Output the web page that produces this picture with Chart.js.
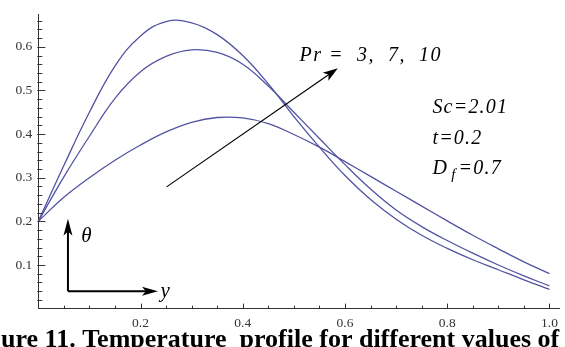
<!DOCTYPE html>
<html lang="en">

<head>
    <meta charset="UTF-8">
    <title>Temperature profile</title>
    <style>
        html, body { margin: 0; padding: 0; background: #fff; }
        #wrap { position: relative; width: 565px; height: 347px; overflow: hidden; }
    </style>
</head>

<body>
    <div id="wrap">
        <canvas id="tempChart" width="565" height="347"></canvas>
    </div>
    <script src="https://cdn.jsdelivr.net/npm/chart.js"></script>
    <script>
        // y (distance) grid
        const yPos = [0, 0.05, 0.1, 0.15, 0.2, 0.25, 0.3, 0.35, 0.4, 0.45, 0.5,
            0.55, 0.6, 0.65, 0.7, 0.75, 0.8, 0.85, 0.9, 0.95, 1.0];

        // theta values
        const thetaPr3 = [0.2, 0.255, 0.30, 0.34, 0.375, 0.405, 0.427, 0.438, 0.437, 0.424, 0.399,
            0.37, 0.337, 0.303, 0.269, 0.235, 0.201, 0.168, 0.137, 0.107, 0.08];
        const thetaPr7 = [0.2, 0.302, 0.395, 0.482, 0.543, 0.578, 0.593, 0.587, 0.56, 0.51, 0.45,
            0.39, 0.33, 0.274, 0.226, 0.188, 0.156, 0.127, 0.1, 0.075, 0.052];
        const thetaPr10 = [0.2, 0.328, 0.45, 0.556, 0.625, 0.658, 0.655, 0.628, 0.58, 0.515, 0.44,
            0.37, 0.305, 0.25, 0.205, 0.168, 0.138, 0.112, 0.089, 0.066, 0.044];

        const xTickLabels = [0.2, 0.4, 0.6, 0.8, 1.0];
        const yTickLabels = [0.1, 0.2, 0.3, 0.4, 0.5, 0.6];

        const lineColor = '#5353a3';
        const serif = "'Liberation Serif', 'Times New Roman', serif";

        function toPoints(vals) {
            return yPos.map(function (x, i) { return { x: x, y: vals[i] }; });
        }

        function makeSet(vals) {
            return {
                data: toPoints(vals),
                borderColor: lineColor,
                borderWidth: 1.3,
                pointRadius: 0,
                fill: false,
                tension: 0.4
            };
        }

        // ticks drawn inward, Mathematica style
        const innerTicks = {
            id: 'innerTicks',
            afterDraw(chart) {
                const ctx = chart.ctx;
                const xs = chart.scales.x, ys = chart.scales.y;
                const x0 = xs.getPixelForValue(0), y0 = ys.getPixelForValue(0);
                ctx.save();
                ctx.strokeStyle = '#333';
                ctx.lineWidth = 1;
                ctx.beginPath();
                for (let k = 1; k <= 20; k++) {
                    const px = Math.round(xs.getPixelForValue(k * 0.05)) + 0.5;
                    const len = (k % 4 === 0) ? 5 : 3;
                    ctx.moveTo(px, y0);
                    ctx.lineTo(px, y0 - len);
                }
                for (let k = 1; k <= 33; k++) {
                    const py = Math.round(ys.getPixelForValue(k * 0.02)) + 0.5;
                    const len = (k % 5 === 0) ? 7 : 4;
                    ctx.moveTo(x0 - 1, py);
                    ctx.lineTo(x0 + len, py);
                }
                ctx.stroke();
                ctx.restore();
            }
        };

        function arrowHead(ctx, fx, fy, tx, ty, len, half) {
            const a = Math.atan2(ty - fy, tx - fx);
            ctx.beginPath();
            ctx.moveTo(tx, ty);
            ctx.lineTo(tx - len * Math.cos(a) + half * Math.sin(a), ty - len * Math.sin(a) - half * Math.cos(a));
            ctx.lineTo(tx - len * Math.cos(a) * 0.75, ty - len * Math.sin(a) * 0.75);
            ctx.lineTo(tx - len * Math.cos(a) - half * Math.sin(a), ty - len * Math.sin(a) + half * Math.cos(a));
            ctx.closePath();
            ctx.fill();
        }

        const notes = {
            id: 'notes',
            afterDraw(chart) {
                const ctx = chart.ctx;
                const xs = chart.scales.x, ys = chart.scales.y;
                const X = v => xs.getPixelForValue(v), Y = v => ys.getPixelForValue(v);
                ctx.save();
                ctx.fillStyle = '#000';
                ctx.strokeStyle = '#000';

                // Pr arrow
                const fx = X(0.251), fy = Y(0.279), tx = X(0.586), ty = Y(0.551);
                const a = Math.atan2(ty - fy, tx - fx);
                ctx.lineWidth = 1.2;
                ctx.beginPath();
                ctx.moveTo(fx, fy);
                ctx.lineTo(tx - 10 * Math.cos(a), ty - 10 * Math.sin(a));
                ctx.stroke();
                arrowHead(ctx, fx, fy, tx, ty, 15, 5);

                // theta / y indicator
                const ox = X(0.058), oy = Y(0.040);
                ctx.lineWidth = 2;
                ctx.beginPath();
                ctx.moveTo(ox, oy);
                ctx.lineTo(ox, Y(0.206) + 12);
                ctx.moveTo(ox, oy);
                ctx.lineTo(X(0.234) - 12, oy);
                ctx.stroke();
                arrowHead(ctx, ox, oy, ox, Y(0.206), 17, 4.5);
                arrowHead(ctx, ox, oy, X(0.234), oy, 16, 4.5);

                ctx.textBaseline = 'middle';
                ctx.textAlign = 'left';
                ctx.font = 'italic 21px ' + serif;
                ctx.fillText('θ', X(0.084), Y(0.166));
                ctx.fillText('y', X(0.239), Y(0.040));

                ctx.font = 'italic 20px ' + serif;
                ctx.letterSpacing = '1.5px';
                ctx.fillText('Pr =  3,  7,  10', X(0.511), Y(0.58));
                ctx.letterSpacing = '1.2px';
                ctx.fillText('Sc=2.01', X(0.771), Y(0.46));
                ctx.fillText('t=0.2', X(0.771), Y(0.389));
                ctx.fillText('D', X(0.771), Y(0.320));
                const dw = ctx.measureText('D ').width;
                ctx.font = 'italic 15px ' + serif;
                ctx.fillText('f', X(0.771) + dw - 3, Y(0.320) + 6);
                const fw = ctx.measureText('f').width;
                ctx.font = 'italic 20px ' + serif;
                ctx.fillText('=0.7', X(0.771) + dw + fw - 1, Y(0.320));

                // caption, cut off at the bottom like the reference
                ctx.letterSpacing = '0px';
                ctx.font = 'bold 26px ' + serif;
                ctx.textBaseline = 'alphabetic';
                ctx.fillText('ure 11. Temperature  profile for different values of', 1, 347);
                ctx.restore();
            }
        };

        new Chart(document.getElementById('tempChart'), {
            type: 'line',
            data: {
                datasets: [makeSet(thetaPr3), makeSet(thetaPr7), makeSet(thetaPr10)]
            },
            options: {
                responsive: false,
                animation: false,
                layout: { padding: { top: 10, right: 5, left: 0, bottom: 0 } },
                plugins: { legend: { display: false }, tooltip: { enabled: false } },
                scales: {
                    x: {
                        type: 'linear',
                        min: 0,
                        max: 1.02,
                        afterFit(s) { s.height = 38.4; },
                        afterBuildTicks(s) { s.ticks = xTickLabels.map(v => ({ value: v })); },
                        grid: { display: false, drawTicks: false },
                        border: { display: true, color: '#333', width: 1 },
                        ticks: {
                            padding: 7,
                            color: '#333',
                            font: { family: serif, size: 13.5 },
                            maxRotation: 0,
                            callback: v => v.toFixed(1)
                        }
                    },
                    y: {
                        type: 'linear',
                        min: 0,
                        max: 0.675,
                        afterFit(s) { s.width = 38.3; },
                        afterBuildTicks(s) { s.ticks = yTickLabels.map(v => ({ value: v })); },
                        grid: { display: false, drawTicks: false },
                        border: { display: true, color: '#333', width: 1 },
                        ticks: {
                            padding: 6,
                            color: '#333',
                            font: { family: serif, size: 13.5 },
                            callback: v => v.toFixed(1)
                        }
                    }
                }
            },
            plugins: [innerTicks, notes]
        });
    </script>
</body>

</html>
